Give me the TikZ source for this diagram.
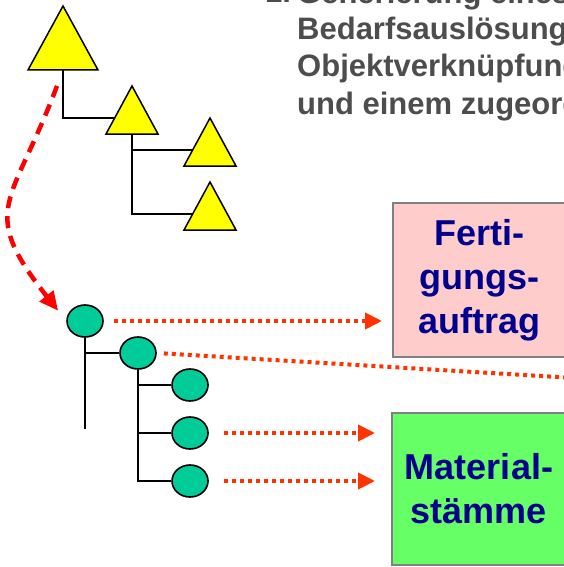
\documentclass[tikz,border=0pt]{standalone}
\usepackage{fontspec}
\setmainfont{Liberation Sans}
\usetikzlibrary{arrows.meta,shapes.geometric,backgrounds}

\begin{document}
\begin{tikzpicture}[x=1pt,y=-1pt]

% Colors
\definecolor{teilgelb}{RGB}{255,255,0}
\definecolor{knotengruen}{RGB}{0,204,153}
\definecolor{pfeilrot}{RGB}{255,0,0}
\definecolor{punktrot}{RGB}{255,51,0}
\definecolor{auftragrosa}{RGB}{255,204,204}
\definecolor{stammgruen}{RGB}{102,255,102}
\definecolor{rahmengrau}{RGB}{128,128,128}
\definecolor{schriftblau}{RGB}{0,0,140}
\definecolor{kopfgrau}{RGB}{77,77,77}

\tikzset{
  ast/.style={black, line width=1.6pt},
  teil/.style={fill=teilgelb, draw=black, line width=1.5pt, line join=miter},
  knoten/.style={ellipse, draw=black, line width=1.6pt, fill=knotengruen,
    minimum width=36pt, minimum height=32pt, inner sep=0pt},
  punkte/.style={punktrot, line width=4pt, dash pattern=on 4pt off 4pt},
  bezug/.style={punkte, -{Triangle[length=17pt,width=16pt]}},
  kasten/.style={draw=rahmengrau, line width=2pt, text=schriftblau, align=center,
    font=\fontsize{36}{44}\selectfont\bfseries, inner sep=0pt},
  kopf/.style={text=kopfgrau, font=\fontsize{31}{37}\selectfont\bfseries, inner sep=0pt},
}

\useasboundingbox (0,0) rectangle (563,567);

% Heading (base is the last line)
\node[kopf, anchor=base west] (nr) at (265,3) {1.};
\node[kopf, anchor=base west, align=left] (kopftext) at (297,114)
  {Generierung eines\\Bedarfsauslösung\\Objektverknüpfung\\und einem zugeordneten};

% Triangles (apex x/y, half base, height)
\foreach \n/\x/\y/\w/\h in {t1/63/6/35/64, t2/132/86/26/48, t3/210/118/26/48, t4/210/182/26/48} {
  \draw[teil] (\x,\y) -- ++(\w,\h) -- ++(-2*\w,0) -- cycle;
  \coordinate (\n) at (\x,\y+2*\h/3);
  \coordinate (\n-fuss) at (\x,\y+\h);
}

% Circles
\node[knoten] (k1) at (85,321) {};
\node[knoten] (k2) at (138,353) {};
\node[knoten] (k3) at (190,385) {};
\node[knoten] (k4) at (190,433) {};
\node[knoten] (k5) at (190,481) {};
\coordinate (k1-ende) at (k1.south |- 0,429);

% Tree lines
\begin{scope}[on background layer]
  \draw[ast] (t1-fuss) |- (t2);
  \draw[ast] (t2-fuss) |- (t3);
  \draw[ast] (t2-fuss) |- (t4);
  \draw[ast] (k1.south) -- (k1-ende);
  \draw[ast] (k1.south |- k2) -- (k2.west);
  \foreach \k in {k3,k4,k5}
    \draw[ast] (k2.south) |- (\k.west);
\end{scope}

% Boxes
\node[kasten, fill=auftragrosa, minimum width=173pt, minimum height=154pt] (fa)
  at (479.5,280) {Ferti-\\gungs-\\auftrag};
\node[kasten, fill=stammgruen, minimum width=174pt, minimum height=152pt] (ms)
  at (479,489) {Material-\\stämme};

% Dashed arrow from the triangles to the circles
\draw[pfeilrot, line width=4.5pt, dash pattern=on 12pt off 8pt,
  -{Triangle[length=19pt,width=17pt]}, shorten <=17pt, shorten >=13pt]
  (t1-fuss) .. controls (12,206) and (-23,208) .. (k1.west);

% Dotted arrows to the boxes
\coordinate (rand) at (566,377.5);
\draw[bezug, shorten <=10pt, shorten >=10pt] (k1.east) -- (k1.east -| fa.west);
\draw[punkte, shorten <=7pt] (k2.east) -- (rand);
\draw[bezug, shorten <=15pt, shorten >=16pt] (k4.east) -- (k4.east -| ms.west);
\draw[bezug, shorten <=15pt, shorten >=16pt] (k5.east) -- (k5.east -| ms.west);

\end{tikzpicture}
\end{document}
